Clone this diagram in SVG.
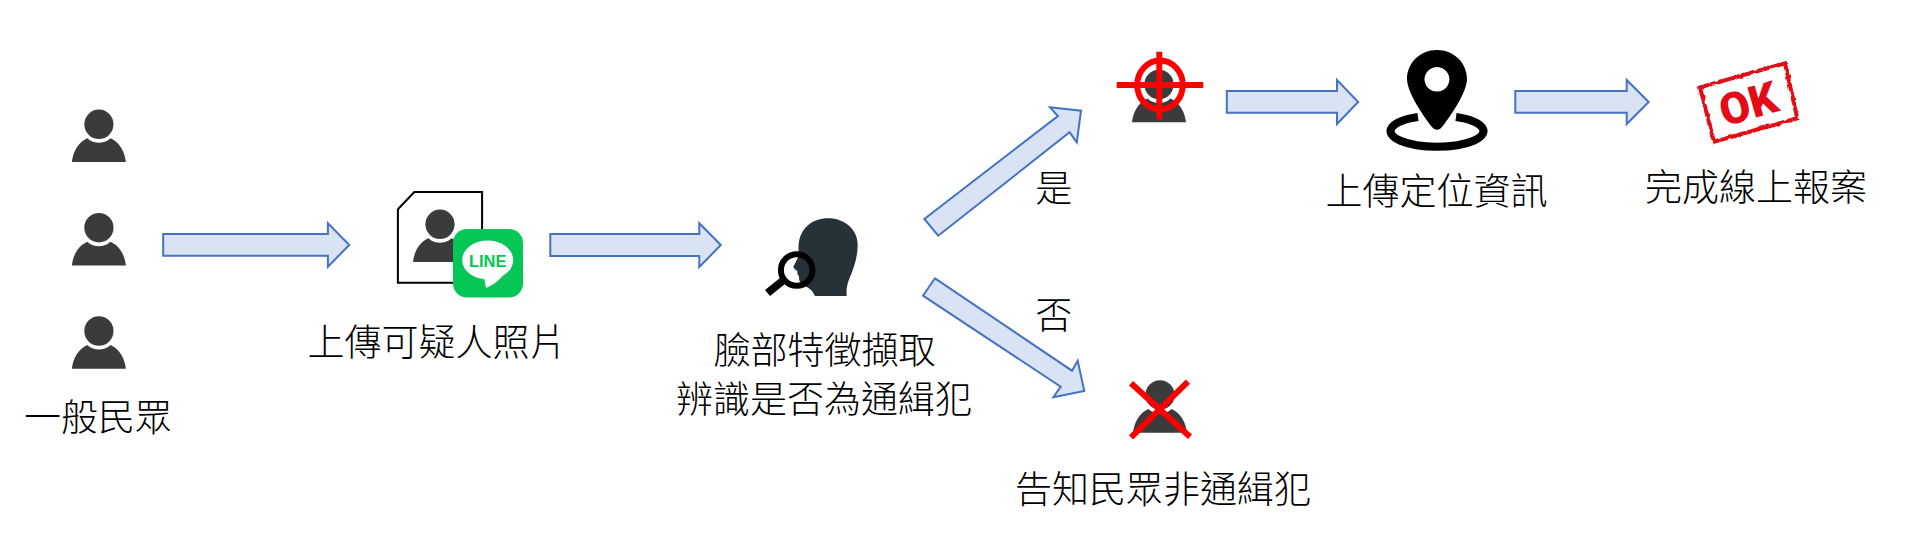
<svg xmlns="http://www.w3.org/2000/svg" width="1909" height="560" viewBox="0 0 1909 560">
<style>
.lbl{font-family:"Noto Sans CJK TC","Noto Sans CJK SC",sans-serif;font-size:37px;font-weight:300;fill:#000;text-anchor:middle}
.arrow{fill:#DAE3F3;stroke:#4472C4;stroke-width:2;stroke-linejoin:miter}
.red{stroke:#FF0000;fill:none}
</style>
<defs>
<g id="person">
<ellipse cx="0" cy="0" rx="14.6" ry="14.7" fill="#3B3B3B"/>
<path d="M-27,37.8C-26,28 -21,18 -11.5,14C-8,17.5 -4,18.5 0,18.5C4,18.5 8,17.5 11.5,14C21,18 26,28 27,37.8Z" fill="#3B3B3B"/>
</g>
<filter id="rough" x="-10%" y="-10%" width="120%" height="120%">
<feTurbulence type="fractalNoise" baseFrequency="0.18" numOctaves="2" seed="4"/>
<feDisplacementMap in="SourceGraphic" scale="3.5" xChannelSelector="R" yChannelSelector="G"/>
</filter>
</defs>
<rect width="1909" height="560" fill="#fff"/>
<g id="connectors">
<polygon class="arrow" points="163.2,234 327.9,234 327.9,223.3 349.3,245 327.9,266.7 327.9,255.7 163.2,255.7"/>
<polygon class="arrow" points="550.3,234 699.3,234 699.3,223.3 720.8,245 699.3,267 699.3,256 550.3,256"/>
<polygon class="arrow" points="924.3,219 1057.9,116 1050,107.3 1081,110.7 1076.8,142.3 1069.6,132.3 938.2,235.7"/>
<polygon class="arrow" points="935,278.3 1072,370.7 1077.7,360.7 1084.3,391 1053.3,397.3 1060.7,386.7 923,295.7"/>
<polygon class="arrow" points="1226.8,91 1337,91 1337,80 1358.2,102 1337,124 1337,112.7 1226.8,112.7"/>
<polygon class="arrow" points="1515.3,91 1626.7,91 1626.7,80 1648.7,102 1626.7,124 1626.7,112.7 1515.3,112.7"/>
</g>
<g id="public">
<use href="#person" x="98.9" y="124.3"/>
<use href="#person" x="98.9" y="227.7"/>
<use href="#person" x="98.9" y="331"/>
<text class="lbl" x="98" y="431">一般民眾</text>
</g>
<g id="upload-photo">
<polygon points="397.9,209.3 414.3,192 482.1,192 482.1,282.7 397.9,282.7" fill="#fff" stroke="#000" stroke-width="2"/>
<use href="#person" x="440" y="224.3"/>
<rect x="453" y="229" width="70" height="68.5" rx="14" fill="#06C755"/>
<ellipse cx="487.7" cy="260" rx="25.5" ry="19.6" fill="#fff"/>
<path d="M484,277L486,288C493,285 500,280 506,272Z" fill="#fff"/>
<text x="487.7" y="266.5" font-family="Liberation Sans,sans-serif" font-size="16.5" font-weight="700" fill="#06C755" text-anchor="middle">LINE</text>
<text class="lbl" x="437" y="356">上傳可疑人照片</text>
</g>
<g id="face-recognition">
<circle cx="796.7" cy="270" r="14" fill="#fff"/>
<path d="M846.7,296C846,290 847,284 850,277C854,268 857.7,256 857.7,245C857.7,229 844,218.3 828.3,218.3C812,218.3 801,228 798.8,243C798,248 799,252 798.5,256C797,260 794,265 793.3,267C794,269 796,270 797.5,271C797,273 797.5,275 799,276C799,278 799,281 800.5,282.5C804,286 810,288 812,291L815,296Z" fill="#263238"/>
<circle cx="796.7" cy="270" r="15.8" fill="none" stroke="#000" stroke-width="6"/>
<path d="M785,279L767.5,293" stroke="#000" stroke-width="8" fill="none"/>
<text class="lbl" x="824.6" y="364">臉部特徵擷取</text>
<text class="lbl" x="824" y="413">辨識是否為通緝犯</text>
</g>
<g id="yes-label"><text class="lbl" x="1053.7" y="202">是</text></g>
<g id="no-label"><text class="lbl" x="1053.7" y="329">否</text></g>
<g id="target-person">
<use href="#person" x="1159" y="84.5"/>
<ellipse cx="1160" cy="85" rx="22.8" ry="24.5" class="red" stroke-width="6"/>
<path d="M1116.7,85H1203.3M1159.3,51.7V119.3" class="red" stroke-width="6"/>
</g>
<g id="location">
<path d="M1437,50C1420,50 1407,63 1407,79C1407,93 1425,118 1432,127C1435,130.500 1439,130.500 1442,127C1449,118 1467,93 1467,79C1467,63 1454,50 1437,50ZM1437,67A12.500,12.300 0 1 1 1436.900,67Z" fill="#000" fill-rule="evenodd"/>
<path d="M1418,117A46.500,15.500 0 1 0 1456,117" fill="none" stroke="#000" stroke-width="8"/>
<text class="lbl" x="1436.400" y="205">上傳定位資訊</text>
</g>
<g id="report-done">
<g filter="url(#rough)">
<polygon points="1700,87.300 1785,63.300 1797.300,118.300 1714,141.700" fill="none" stroke="#E30B17" stroke-width="4"/>
</g>
<text x="0" y="0" transform="translate(1748.300,103.300) rotate(-16)" dy="16" font-family="Roboto,sans-serif" font-size="44" font-weight="900" fill="#E30B17" text-anchor="middle">OK</text>
<text class="lbl" x="1756" y="201">完成線上報案</text>
</g>
<g id="not-wanted">
<use href="#person" x="1160" y="394.900"/>
<path d="M1131,383.300L1190,436.700M1188,381.700L1131,437.300" class="red" stroke-width="6"/>
<text class="lbl" x="1163" y="503">告知民眾非通緝犯</text>
</g>
</svg>
